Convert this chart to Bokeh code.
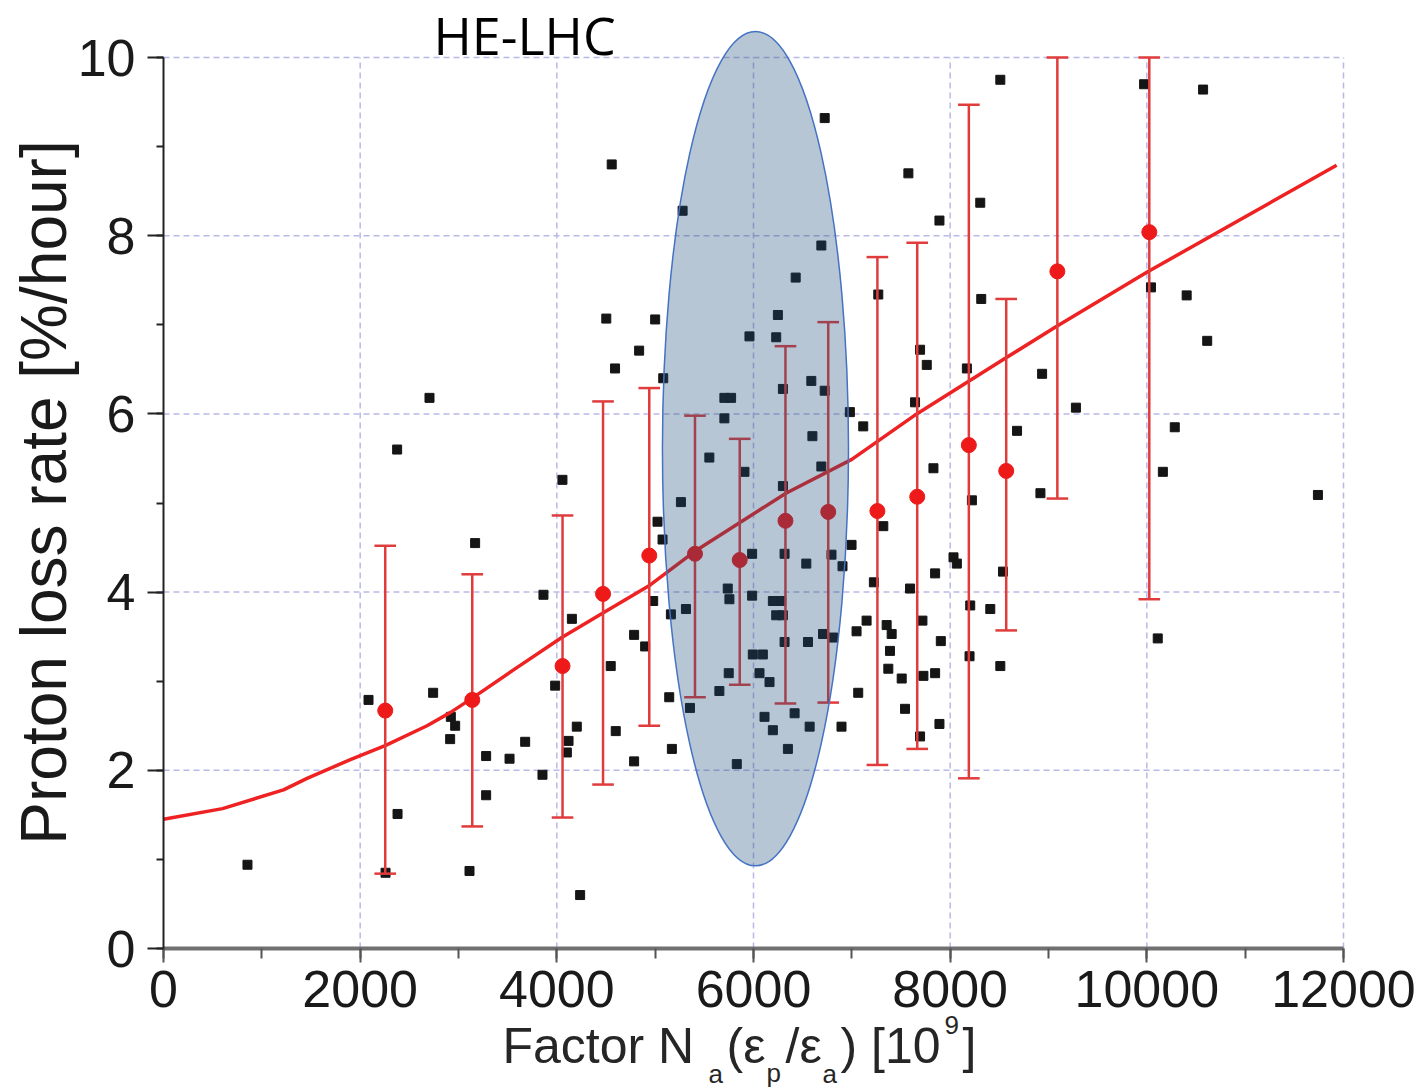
import numpy as np
from bokeh.plotting import figure
from bokeh.models import Range1d, SingleIntervalTicker, Label
from bokeh.embed import file_html
from bokeh.resources import INLINE

# ---------------- data ----------------
scatter_x = [2705, 2376, 2085, 3169, 2742, 2922, 2966, 2915, 3281, 3519, 3678, 3281, 2380, 2258, 854,
             3112, 3864, 4057, 3983, 4153, 4203, 4119, 4102, 3854, 4237,
             4558, 5279, 6724, 7575, 8306, 7891, 6690, 6429, 8316, 7269, 4503, 5000, 6248, 6231, 5959,
             4837, 4592, 5082, 6299, 6588, 6724, 5704, 5772, 5704, 6980, 7116, 6599, 7694, 7762, 7643,
             8170, 8935, 8680, 7830, 8918, 8221, 5551, 5908, 6690, 6299, 5262, 5024, 5075, 7320, 5986,
             6316, 6537, 6793, 6905, 6997, 8034, 8068, 7847, 8537, 7224, 7592, 5738, 5755, 5986, 6197,
             6282, 6231, 6299, 6316, 6554, 6707, 6810, 5313, 5160, 4980, 4786, 4898, 4548, 7048, 7150,
             7354, 7405, 7388, 7371, 7507, 7718, 7728, 7847, 7905, 8204, 8408, 8197, 8510, 7541, 7891,
             7694, 6895, 7065, 6571, 6350, 6418, 6197, 6112, 6061, 6163, 5993, 6095, 5748, 5653, 5354,
             5143, 5170, 4786, 4599, 5830,
             8510, 9972, 10572, 10042, 10405, 10614, 9279, 10284, 10163, 11740, 10111]
scatter_y = [6.18, 5.60, 2.79, 4.55, 2.87, 2.60, 2.50, 2.35, 2.16, 2.13, 2.32, 1.72, 1.51, 0.85, 0.94,
             0.87, 3.97, 5.26, 2.95, 3.70, 2.49, 2.33, 2.20, 1.95, 0.60,
             8.80, 8.28, 9.32, 8.70, 8.37, 8.17, 7.89, 7.53, 7.29, 7.34, 7.07, 7.06, 7.11, 6.86, 6.87,
             6.71, 6.51, 6.40, 6.28, 6.37, 6.26, 6.18, 6.18, 5.95, 6.02, 5.86, 5.75, 6.72, 6.55, 6.13,
             6.51, 6.45, 5.81, 5.39, 5.11, 5.03, 5.51, 5.35, 5.41, 5.19, 5.01, 4.79, 4.59, 4.74, 4.43,
             4.43, 4.32, 4.42, 4.29, 4.53, 4.39, 4.32, 4.21, 4.23, 4.11, 4.04, 4.04, 3.92, 3.96, 3.90,
             3.90, 3.74, 3.74, 3.44, 3.44, 3.53, 3.49, 3.81, 3.75, 3.90, 3.52, 3.39, 3.17, 3.56, 3.68,
             3.63, 3.53, 3.34, 3.14, 3.03, 3.68, 3.06, 3.09, 3.45, 3.85, 3.81, 3.28, 3.17, 2.69, 2.52,
             2.38, 2.49, 2.87, 2.49, 2.24, 2.64, 2.45, 2.60, 3.09, 2.99, 3.30, 3.30, 3.09, 2.89, 2.70,
             2.82, 2.24, 2.10, 2.44, 2.07,
             9.75, 9.70, 9.64, 7.42, 7.33, 6.82, 6.07, 5.85, 5.35, 5.09, 3.48]

mean_x = [2255, 3140, 4058, 4470, 4940, 5405, 5860, 6325, 6760, 7260, 7665, 8190, 8570, 9090, 10025]
mean_y = [2.67, 2.79, 3.17, 3.98, 4.41, 4.43, 4.36, 4.80, 4.90, 4.91, 5.07, 5.65, 5.36, 7.60, 8.04]
err_lo = [0.84, 1.37, 1.47, 1.84, 2.50, 2.82, 2.96, 2.75, 2.76, 2.06, 2.24, 1.91, 3.57, 5.05, 3.92]
err_hi = [4.52, 4.20, 4.86, 6.14, 6.29, 5.98, 5.72, 6.76, 7.03, 7.76, 7.92, 9.47, 7.29, 10.0, 10.0]

fit_x = [0, 600, 1220, 1460, 1900, 2260, 2680, 2920, 3140, 3590, 4050, 4460, 4950, 5420, 6330,
         7000, 7660, 8540, 9080, 10000, 11930]
fit_y = [1.45, 1.57, 1.78, 1.91, 2.12, 2.28, 2.50, 2.65, 2.81, 3.15, 3.49, 3.76, 4.08, 4.47, 5.11,
         5.49, 6.00, 6.61, 6.98, 7.59, 8.79]

x_ticks = [0, 2000, 4000, 6000, 8000, 10000, 12000]
y_ticks = [0, 2, 4, 6, 8, 10]

ellipse_x = [6020]
ellipse_y = [5.61]
ellipse_w = [1892]
ellipse_h = [9.37]

# ---------------- layout (whole canvas is the data frame) ----------------
W, H = 1420, 1088
X0_PX, Y0_PX = 163.0, 948.0          # pixel position of data origin
SX = 1180.0 / 12000.0                # px per x unit
SY = 891.0 / 10.0                    # px per y unit


def px2x(px):
    return (px - X0_PX) / SX


def py2y(py):
    return (Y0_PX - py) / SY


FONT = "Liberation Sans"
p = figure(width=W, height=H, title=None,
           x_range=Range1d(px2x(0), px2x(W)), y_range=Range1d(py2y(H), py2y(0)),
           output_backend="svg", toolbar_location=None,
           min_border_left=0, min_border_right=0, min_border_top=0, min_border_bottom=0)
p.outline_line_color = None
p.grid.visible = False
p.background_fill_color = "white"
p.border_fill_color = "white"

# grid (dashed, limited to data box)
gx = np.array(x_ticks[1:], dtype=float)
p.segment(x0=gx, y0=0, x1=gx, y1=y_ticks[-1], line_color="#b9b9e6", line_width=1.5, line_dash="6 4")
gy = np.array(y_ticks[1:], dtype=float)
p.segment(x0=0, y0=gy, x1=x_ticks[-1], y1=gy, line_color="#b9b9e6", line_width=1.5, line_dash="6 4")

# axes at fixed data positions
xa = p.xaxis[0]
xa.fixed_location = 0
xa.ticker = SingleIntervalTicker(interval=2000, num_minor_ticks=2)
xa.bounds = (x_ticks[0], x_ticks[-1])
xa.axis_line_color = "#707070"
xa.axis_line_width = 4
xa.major_tick_line_color = "#555555"
xa.major_tick_line_width = 2
xa.major_tick_out = 14
xa.major_tick_in = 0
xa.minor_tick_line_color = "#555555"
xa.minor_tick_line_width = 2
xa.minor_tick_out = 10
xa.minor_tick_in = 0
xa.major_label_text_font = FONT
xa.major_label_text_font_size = "52px"
xa.major_label_text_color = "#1a1a1a"
xa.major_label_standoff = 8

ya = p.yaxis[0]
ya.fixed_location = 0
ya.ticker = SingleIntervalTicker(interval=2, num_minor_ticks=2)
ya.bounds = (y_ticks[0], y_ticks[-1])
ya.axis_line_color = "#222222"
ya.axis_line_width = 2
ya.major_tick_line_color = "#222222"
ya.major_tick_line_width = 2
ya.major_tick_out = 16
ya.major_tick_in = 0
ya.minor_tick_line_color = "#222222"
ya.minor_tick_line_width = 2
ya.minor_tick_out = 7
ya.minor_tick_in = 0
ya.major_label_text_font = FONT
ya.major_label_text_font_size = "52px"
ya.major_label_text_color = "#1a1a1a"
ya.major_label_standoff = 12

# data marks
p.scatter(scatter_x, scatter_y, marker="square", size=9, color="#151515")
p.line(fit_x, fit_y, line_color="#ee2222", line_width=3.5)
mx = np.array(mean_x, dtype=float)
p.segment(x0=mx, y0=err_lo, x1=mx, y1=err_hi, line_color="#e03c3c", line_width=2.5)
cap = 110
p.segment(x0=mx - cap, y0=err_lo, x1=mx + cap, y1=err_lo, line_color="#e03c3c", line_width=2.5)
p.segment(x0=mx - cap, y0=err_hi, x1=mx + cap, y1=err_hi, line_color="#e03c3c", line_width=2.5)
p.scatter(mean_x, mean_y, marker="circle", size=15, color="#ee1a1a")

# highlighted region
p.ellipse(x=ellipse_x, y=ellipse_y, width=ellipse_w, height=ellipse_h,
          fill_color="#1F4E79", fill_alpha=0.32, line_color="#4472C4", line_width=1.5)

p.add_layout(Label(x=px2x(433), y=py2y(34), text="HE-LHC", text_font="Open Sans", text_font_size="52px",
                   text_color="black", text_baseline="middle"))

# y-axis title
p.add_layout(Label(x=px2x(43), y=py2y(492), text="Proton loss rate [%/hour]", angle=np.pi / 2,
                   text_font=FONT, text_font_size="64px", text_color="#1a1a1a",
                   text_align="center", text_baseline="middle"))

# x-axis title pieces (sub/superscripts)
pieces = [
    ("Factor N", 502, 1045, "50px"),
    ("a", 708, 1073, "26px"),
    ("(\u03b5", 726, 1045, "50px"),
    ("p", 766, 1072, "26px"),
    ("/\u03b5", 785, 1045, "50px"),
    ("a", 822, 1073, "26px"),
    (") [10", 840, 1045, "50px"),
    ("9", 944, 1024, "26px"),
    ("]", 962, 1045, "50px"),
]
for txt, px, py, fs in pieces:
    p.add_layout(Label(x=px2x(px), y=py2y(py), text=txt, text_font=FONT, text_font_size=fs,
                       text_color="#262626", text_baseline="middle"))

open("out.html", "w").write(file_html(p, INLINE))
